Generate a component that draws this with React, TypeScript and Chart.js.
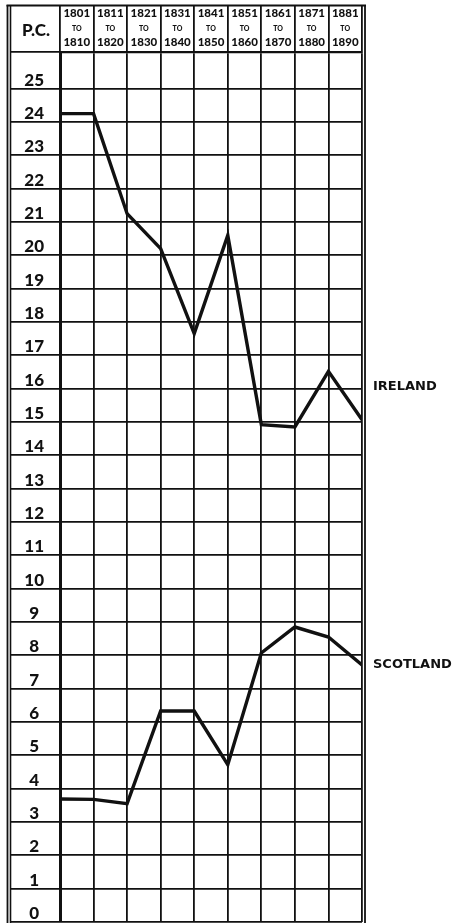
import { useEffect, useRef } from "react";
import { Chart, registerables } from "chart.js";

Chart.register(...registerables);

// ---------- data ----------
const PERIOD_START = ["1801", "1811", "1821", "1831", "1841", "1851", "1861", "1871", "1881"];
const PERIOD_JOIN = ["TO", "TO", "TO", "TO", "TO", "TO", "TO", "TO", "TO"];
const PERIOD_END = ["1810", "1820", "1830", "1840", "1850", "1860", "1870", "1880", "1890"];

// point positions: boundaries between the decade columns
const BOUNDARIES = [0, 1, 2, 3, 4, 5, 6, 7, 8, 9];

const IRELAND = [24.0, 24.0, 21.0, 19.95, 17.4, 20.35, 14.67, 14.6, 16.27, 14.82];
const SCOTLAND = [3.44, 3.43, 3.3, 6.08, 6.08, 4.47, 7.82, 8.6, 8.3, 7.46];

const SERIES_NAMES = ["IRELAND", "SCOTLAND"];
const SERIES_TAG_AT = [15.8, 7.46];

// per-cent tick labels
const Y_TICKS = [0, 1, 2, 3, 4, 5, 6, 7, 8, 9, 10, 11, 12, 13, 14, 15, 16, 17, 18, 19, 20, 21, 22, 23, 24, 25];
// ruled lines of the printed grid
const Y_RULES = [
  -0.25, 0.75, 1.75, 2.75, 3.75, 4.75, 5.75, 6.75, 7.75, 8.75, 9.75, 10.75, 11.75,
  12.75, 13.75, 14.75, 15.75, 16.75, 17.75, 18.75, 19.75, 20.75, 21.75, 22.75, 23.75, 24.75, 25.85,
];
const Y_MIN = -0.25;
const Y_MAX = 25.85;

const INK = "#111111";

function zeroPad(s: any) {
  s.paddingTop = 0;
  s.paddingBottom = 0;
  s.paddingLeft = 0;
  s.paddingRight = 0;
}

function headerAxis(labels: string[], weight: number, height: number, size: number, padding: number) {
  return {
    type: "category",
    labels,
    position: "top",
    weight,
    offset: true,
    grid: { display: false, drawTicks: false },
    border: { display: false },
    ticks: {
      color: INK,
      font: { family: "Lato", weight: 900, size },
      padding,
      maxRotation: 0,
      minRotation: 0,
      autoSkip: false,
    },
    afterFit: (s: any) => {
      s.height = height;
      zeroPad(s);
    },
  };
}

const framePlugin = {
  id: "frame",
  afterDraw(chart: any) {
    const { ctx, chartArea: a, scales } = chart;
    const top = scales.xStart.top;
    const lab = scales.yl;
    const bottom = chart.height;
    ctx.save();
    ctx.strokeStyle = INK;
    ctx.lineCap = "butt";
    const line = (x1: number, y1: number, x2: number, y2: number, w: number) => {
      ctx.lineWidth = w;
      ctx.beginPath();
      ctx.moveTo(x1, y1);
      ctx.lineTo(x2, y2);
      ctx.stroke();
    };
    // outer frame
    line(lab.left - 3.5, top + 0.5, a.right + 4, top + 0.5, 2.2);
    line(lab.left - 2.5, top, lab.left - 2.5, bottom, 1.8);
    line(lab.left + 0.5, top, lab.left + 0.5, bottom, 1.6);
    line(a.right + 3, top, a.right + 3, bottom, 1.8);

    // corner heading
    ctx.fillStyle = INK;
    ctx.font = "900 17px Lato";
    ctx.textAlign = "center";
    ctx.textBaseline = "middle";
    ctx.fillText("P.C.", (lab.left + lab.right) / 2 + 1, (top + a.top) / 2 + 2);

    // series names at the right
    ctx.font = 'bold 13px "DejaVu Sans"';
    ctx.textAlign = "left";
    SERIES_NAMES.forEach((name, i) => {
      ctx.fillText(name, a.right + 11, scales.y.getPixelForValue(SERIES_TAG_AT[i]));
    });
    ctx.restore();
  },
};

export default function App() {
  const ref = useRef<HTMLCanvasElement | null>(null);

  useEffect(() => {
    if (!ref.current) return;
    const lineStyle = {
      borderColor: INK,
      borderWidth: 3.4,
      pointRadius: 0,
      tension: 0,
      fill: false,
      xAxisID: "x",
      yAxisID: "y",
      borderJoinStyle: "miter" as const,
    };
    const chart = new Chart(ref.current, {
      type: "line",
      data: {
        datasets: [
          { ...lineStyle, label: SERIES_NAMES[0], data: BOUNDARIES.map((x, i) => ({ x, y: IRELAND[i] })) },
          { ...lineStyle, label: SERIES_NAMES[1], data: BOUNDARIES.map((x, i) => ({ x, y: SCOTLAND[i] })) },
        ],
      },
      options: {
        responsive: false,
        animation: false,
        devicePixelRatio: 1,
        layout: { padding: { left: 10, right: 94, top: 5, bottom: 1 } },
        plugins: { legend: { display: false }, tooltip: { enabled: false } },
        scales: {
          x: {
            type: "linear",
            position: "top",
            min: 0,
            max: 9,
            weight: 0,
            afterBuildTicks: (s: any) => {
              s.ticks = BOUNDARIES.map((v) => ({ value: v }));
            },
            ticks: { display: false },
            grid: { color: INK, lineWidth: 1.8, drawTicks: true, tickLength: 47, tickColor: INK, tickWidth: 1.8 },
            border: { display: true, color: INK, width: 2.2 },
            afterFit: (s: any) => {
              s.height = 0;
              zeroPad(s);
            },
          },
          xEnd: headerAxis(PERIOD_END, 1, 17, 11.5, 3),
          xJoin: headerAxis(PERIOD_JOIN, 2, 14, 7, 2),
          xStart: headerAxis(PERIOD_START, 3, 16, 11.5, 1),
          y: {
            type: "linear",
            position: "left",
            min: Y_MIN,
            max: Y_MAX,
            weight: 0,
            afterBuildTicks: (s: any) => {
              s.ticks = Y_RULES.map((v) => ({ value: v }));
            },
            ticks: { display: false },
            grid: { color: INK, lineWidth: 1.8, drawTicks: true, tickLength: 50, tickColor: INK, tickWidth: 1.8 },
            border: { display: true, color: INK, width: 3 },
            afterFit: (s: any) => {
              s.width = 0;
              zeroPad(s);
            },
          },
          yl: {
            type: "linear",
            position: "left",
            min: Y_MIN,
            max: Y_MAX,
            weight: 1,
            afterBuildTicks: (s: any) => {
              s.ticks = Y_TICKS.map((v) => ({ value: v }));
            },
            ticks: {
              color: INK,
              font: { family: "Lato", weight: 900, size: 17 },
              padding: 16,
              crossAlign: "center",
              autoSkip: false,
            },
            grid: { display: false, drawTicks: false },
            border: { display: false },
            afterFit: (s: any) => {
              s.width = 50;
              zeroPad(s);
            },
          },
        },
      } as any,
      plugins: [framePlugin],
    });
    return () => chart.destroy();
  }, []);

  return (
    <div style={{ position: "absolute", left: 0, top: 0, width: 456, height: 923, background: "#fff" }}>
      <canvas ref={ref} width={456} height={923} style={{ display: "block" }} />
    </div>
  );
}
